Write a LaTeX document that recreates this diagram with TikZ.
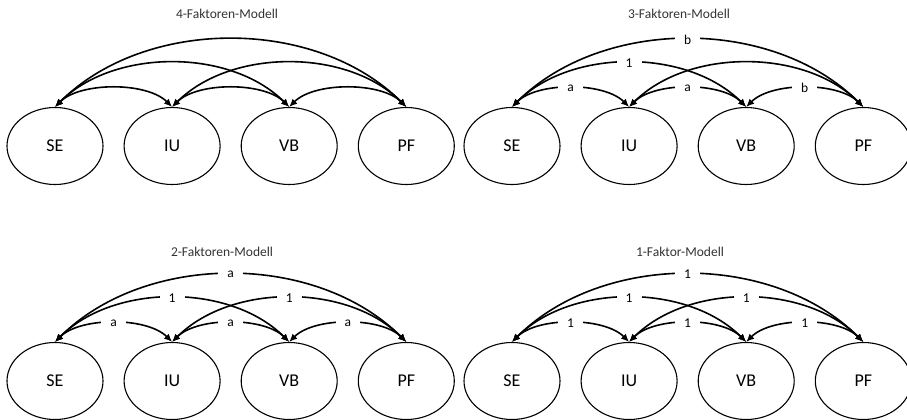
\documentclass[tikz,border=0pt]{standalone}
\usepackage{fontspec}
\setmainfont{Carlito}
\usetikzlibrary{positioning,arrows.meta,shapes.geometric}

\begin{document}
\begin{tikzpicture}[
  x=1pt,y=-1pt,
  fak/.style={draw,ellipse,line width=1.1pt,minimum width=96pt,minimum height=77pt,inner sep=0pt,font=\fontsize{18}{20}\selectfont},
  cov/.style={{Latex[length=8pt,width=7pt]}-{Latex[length=8pt,width=7pt]},line width=1.6pt},
  shortarc/.style={bend left=45,looseness=0.78},
  midarc/.style={bend left=45,looseness=0.91},
  longarc/.style={bend left=45,looseness=0.93},
  lab/.style={pos=0.5,fill=white,inner xsep=9pt,inner ysep=1pt,font=\fontsize{13.5}{15}\selectfont},
  ttl/.style={font=\fontsize{13.5}{16}\selectfont,text=black!80},
  node distance=20pt
]
\useasboundingbox (0,0) rectangle (907,420);

% 4-Faktoren-Modell
\node[ttl] (t1) at (227,14) {4-Faktoren-Modell};
\node[fak] (se1) at (55,146) {SE};
\node[fak,right=of se1] (iu1) {IU};
\node[fak,right=of iu1] (vb1) {VB};
\node[fak,right=of vb1] (pf1) {PF};
\draw[cov] (se1.north) to[shortarc] (iu1.north);
\draw[cov] (iu1.north) to[shortarc] (vb1.north);
\draw[cov] (vb1.north) to[shortarc] (pf1.north);
\draw[cov] (se1.north) to[midarc] (vb1.north);
\draw[cov] (iu1.north) to[midarc] (pf1.north);
\draw[cov] (se1.north) to[longarc] (pf1.north);

% 3-Faktoren-Modell
\node[ttl] (t2) at (679,14) {3-Faktoren-Modell};
\node[fak] (se2) at (512,146) {SE};
\node[fak,right=of se2] (iu2) {IU};
\node[fak,right=of iu2] (vb2) {VB};
\node[fak,right=of vb2] (pf2) {PF};
\draw[cov] (se2.north) to[shortarc] node[lab] {a} (iu2.north);
\draw[cov] (iu2.north) to[shortarc] node[lab] {a} (vb2.north);
\draw[cov] (vb2.north) to[shortarc] node[lab] {b} (pf2.north);
\draw[cov] (se2.north) to[midarc] node[lab] {1} (vb2.north);
\draw[cov] (iu2.north) to[midarc] (pf2.north);
\draw[cov] (se2.north) to[longarc] node[lab] {b} (pf2.north);

% 2-Faktoren-Modell
\node[ttl] (t3) at (222,252) {2-Faktoren-Modell};
\node[fak] (se3) at (55,381) {SE};
\node[fak,right=of se3] (iu3) {IU};
\node[fak,right=of iu3] (vb3) {VB};
\node[fak,right=of vb3] (pf3) {PF};
\draw[cov] (se3.north) to[shortarc] node[lab] {a} (iu3.north);
\draw[cov] (iu3.north) to[shortarc] node[lab] {a} (vb3.north);
\draw[cov] (vb3.north) to[shortarc] node[lab] {a} (pf3.north);
\draw[cov] (se3.north) to[midarc] node[lab] {1} (vb3.north);
\draw[cov] (iu3.north) to[midarc] node[lab] {1} (pf3.north);
\draw[cov] (se3.north) to[longarc] node[lab] {a} (pf3.north);

% 1-Faktor-Modell
\node[ttl] (t4) at (680,252) {1-Faktor-Modell};
\node[fak] (se4) at (512,381) {SE};
\node[fak,right=of se4] (iu4) {IU};
\node[fak,right=of iu4] (vb4) {VB};
\node[fak,right=of vb4] (pf4) {PF};
\draw[cov] (se4.north) to[shortarc] node[lab] {1} (iu4.north);
\draw[cov] (iu4.north) to[shortarc] node[lab] {1} (vb4.north);
\draw[cov] (vb4.north) to[shortarc] node[lab] {1} (pf4.north);
\draw[cov] (se4.north) to[midarc] node[lab] {1} (vb4.north);
\draw[cov] (iu4.north) to[midarc] node[lab] {1} (pf4.north);
\draw[cov] (se4.north) to[longarc] node[lab] {1} (pf4.north);
\end{tikzpicture}
\end{document}
